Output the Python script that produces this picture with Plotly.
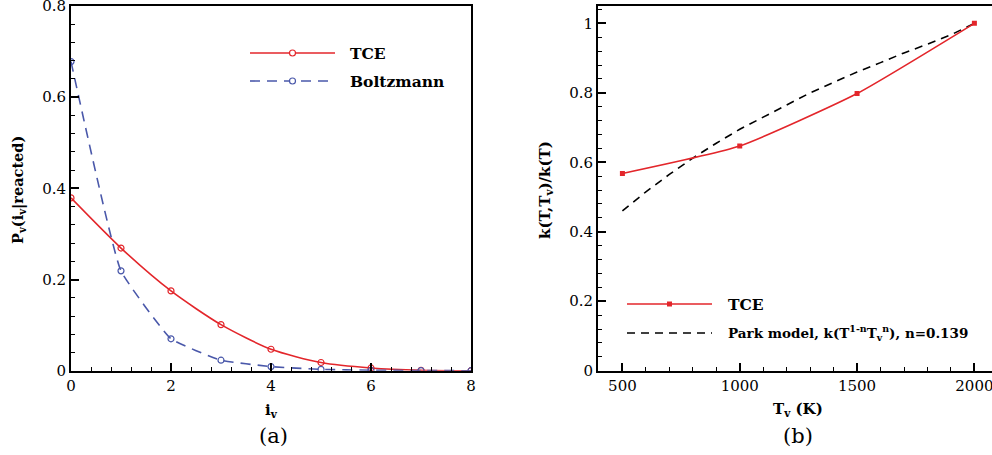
import plotly.graph_objects as go

# ---- data: panel (a)
iv = [0, 1, 2, 3, 4, 5, 6, 7, 8]
p_tce = [0.379, 0.269, 0.175, 0.101, 0.047, 0.018, 0.006, 0.001, 0.0]
p_boltz = [0.678, 0.219, 0.070, 0.023, 0.009, 0.003, 0.001, 0.0003, 0.0]
ticks_a_x = [0, 2, 4, 6, 8]
ticks_a_y = [0, 0.2, 0.4, 0.6, 0.8]

# ---- data: panel (b)
tv_tce = [500, 1000, 1500, 2000]
k_tce = [0.568, 0.647, 0.798, 1.0]
tv_park = [500, 600, 700, 800, 900, 1000, 1100, 1200, 1300, 1400, 1500,
           1600, 1700, 1800, 1900, 2000]
k_park = [0.460, 0.515, 0.565, 0.612, 0.655, 0.695, 0.730, 0.765, 0.800,
          0.830, 0.860, 0.887, 0.915, 0.940, 0.967, 1.0]
ticks_b_x = [500, 1000, 1500, 2000]
ticks_b_y = [0, 0.2, 0.4, 0.6, 0.8, 1]

W, H = 992, 455
FONT = "DejaVu Serif"
RED = "#e3262b"
BLUE = "#4a58aa"


def px(x):
    return x / W


def py(y):
    return 1 - y / H


fig = go.Figure()
fig.add_trace(go.Scatter(x=iv, y=p_tce, mode="lines+markers", name="TCE",
                         line=dict(color=RED, width=1.6, shape="spline", smoothing=0.7),
                         marker=dict(symbol="circle-open", size=6, color=RED, line=dict(width=1.2)),
                         xaxis="x", yaxis="y"))
fig.add_trace(go.Scatter(x=iv, y=p_boltz, mode="lines+markers", name="Boltzmann",
                         line=dict(color=BLUE, width=1.6, dash="10px,7px", shape="spline", smoothing=0.35),
                         marker=dict(symbol="circle-open", size=6, color=BLUE, line=dict(width=1.2)),
                         xaxis="x", yaxis="y"))
fig.add_trace(go.Scatter(x=tv_park, y=k_park, mode="lines", name="Park",
                         line=dict(color="black", width=1.6, dash="8px,6px"),
                         xaxis="x2", yaxis="y2"))
fig.add_trace(go.Scatter(x=tv_tce, y=k_tce, mode="lines+markers", name="TCE",
                         line=dict(color=RED, width=1.6, shape="spline", smoothing=0.5),
                         marker=dict(symbol="square", size=5, color=RED),
                         xaxis="x2", yaxis="y2"))

ydom = [(H - 370.7) / H, (H - 6) / H]
tickfont = dict(family=FONT, size=15, color="black")
common = dict(showgrid=False, zeroline=False, showline=True, linecolor="black",
              linewidth=2, ticks="inside", ticklen=8, tickwidth=1.5, tickcolor="black",
              tickfont=tickfont, tickmode="array", ticklabeloverflow="allow",
              automargin=False)

fig.update_layout(
    width=W, height=H, margin=dict(l=0, r=0, t=0, b=0, autoexpand=False),
    paper_bgcolor="white", plot_bgcolor="white", showlegend=False,
    font=dict(family=FONT, color="black"),
    xaxis=dict(domain=[px(71), px(471)], range=[0, 8], tickvals=ticks_a_x,
               ticktext=[str(v) for v in ticks_a_x], mirror=True,
               minor=dict(dtick=0.4, tick0=0, ticks="inside", ticklen=4, tickcolor="black", tickwidth=1),
               anchor="y", **common),
    yaxis=dict(domain=ydom, range=[0, 0.8], tickvals=ticks_a_y,
               ticktext=["0", "0.2", "0.4", "0.6", "0.8"], mirror=True,
               minor=dict(dtick=0.04, tick0=0, ticks="inside", ticklen=4, tickcolor="black", tickwidth=1),
               anchor="x", **common),
    xaxis2=dict(domain=[px(598), 1.0], range=[396, 2075], tickvals=ticks_b_x,
                ticktext=[str(v) for v in ticks_b_x], mirror=True,
                minor=dict(dtick=100, tick0=0, ticks="inside", ticklen=4, tickcolor="black", tickwidth=1),
                anchor="y2", **common),
    yaxis2=dict(domain=ydom, range=[0, 1.05], tickvals=ticks_b_y,
                ticktext=["0", "0.2", "0.4", "0.6", "0.8", "1"], mirror=False,
                minor=dict(dtick=0.04, tick0=0, ticks="inside", ticklen=4, tickcolor="black", tickwidth=1),
                anchor="x2", **common),
)

shapes = []
ann = []


def legend_line(x0, x1, y, color, dash, marker):
    shapes.append(dict(type="line", xref="paper", yref="paper", x0=px(x0), x1=px(x1),
                       y0=py(y), y1=py(y), line=dict(color=color, width=1.6, dash=dash)))
    xm = (x0 + x1) / 2
    if marker == "circle-open":
        shapes.append(dict(type="circle", xref="paper", yref="paper", xsizemode="pixel",
                           ysizemode="pixel", xanchor=px(xm), yanchor=py(y),
                           x0=-3, x1=3, y0=-3, y1=3, fillcolor="white",
                           line=dict(color=color, width=1.2)))
    elif marker == "square":
        shapes.append(dict(type="rect", xref="paper", yref="paper", xsizemode="pixel",
                           ysizemode="pixel", xanchor=px(xm), yanchor=py(y),
                           x0=-2.5, x1=2.5, y0=-2.5, y1=2.5, fillcolor=color,
                           line=dict(color=color, width=0)))


def text(x, y, s, size=15.5, bold=True, xanchor="left", angle=0):
    ann.append(dict(xref="paper", yref="paper", x=px(x), y=py(y), text=(f"<b>{s}</b>" if bold else s),
                    showarrow=False, xanchor=xanchor, yanchor="middle", textangle=angle,
                    font=dict(family=FONT, size=size, color="black")))


# legend (a)
legend_line(250, 335, 53, RED, "solid", "circle-open")
text(348, 53, "TCE")
legend_line(250, 335, 81, BLUE, "10px,7px", "circle-open")
text(348, 81, "Boltzmann")

# legend (b)
legend_line(627, 712, 304, RED, "solid", "square")
text(726, 304, "TCE")
legend_line(627, 712, 333, "black", "8px,6px", None)
text(726, 333, "Park model, k(T<sup>1-n</sup>T<sub>v</sub><sup>n</sup>), n=0.139", size=13.5)

# axis titles
text(18, 190, "P<sub>v</sub>(i<sub>v</sub>|reacted)", size=14.5, xanchor="center", angle=-90)
text(271, 410, "i<sub>v</sub>", size=15, xanchor="center")
text(273, 436, "(a)", size=21, bold=False, xanchor="center")
text(545, 190, "k(T,T<sub>v</sub>)/k(T)", size=15, xanchor="center", angle=-90)
text(798, 409, "T<sub>v</sub> (K)", size=15, xanchor="center")
text(798, 436, "(b)", size=21, bold=False, xanchor="center")

fig.update_layout(shapes=shapes, annotations=ann)
fig.write_html("out.html", config={"displayModeBar": False},
               post_script="document.body.style.margin='0';document.body.style.overflow='hidden';")
